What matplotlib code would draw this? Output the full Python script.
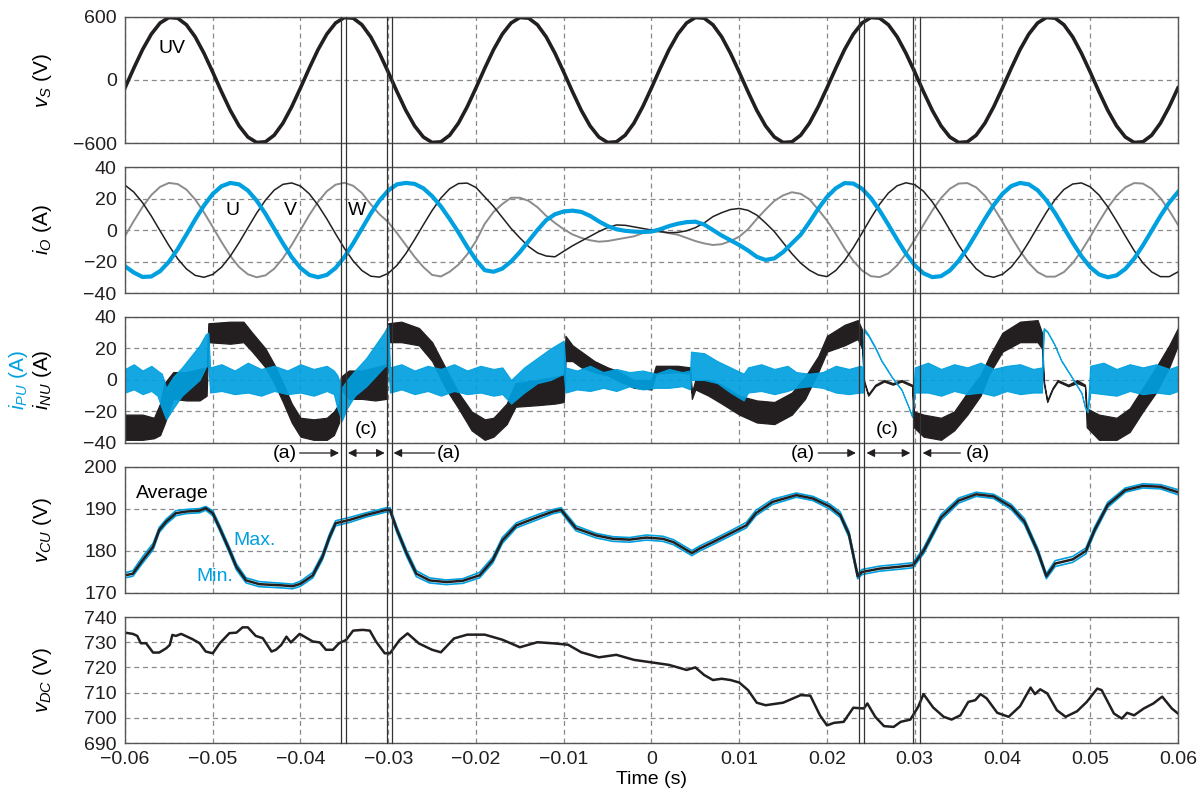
import numpy as np
import matplotlib
matplotlib.use('Agg')
import matplotlib.pyplot as plt
from matplotlib.lines import Line2D
from matplotlib.transforms import blended_transform_factory

plt.rcParams['font.family'] = ['Liberation Sans', 'DejaVu Sans']
plt.rcParams['mathtext.fontset'] = 'custom'
plt.rcParams['mathtext.rm'] = 'Liberation Sans'
plt.rcParams['mathtext.it'] = 'Liberation Sans:italic'

BLUE = '#00a0e0'
BLACK = '#231f20'
GRAY = '#8c8c8c'

# sample times for panels 1-2 (1 ms step)
t_grid = np.round(np.arange(121) * 0.001 - 0.06, 3)

# line-to-line voltage UV (V)
v_s = [-75, 112, 289, 437, 543, 595, 589, 526, 411, 255, 75, -112, -289, -437, -543, -595, -589, -526, -411, -255,
       -75, 112, 289, 437, 543, 595, 589, 526, 411, 255, 75, -112, -289, -437, -543, -595, -589, -526, -411, -255,
       -75, 112, 289, 437, 543, 595, 589, 526, 411, 255, 75, -112, -289, -437, -543, -595, -589, -526, -411, -255,
       -75, 112, 289, 437, 543, 595, 589, 526, 411, 255, 75, -112, -289, -437, -543, -595, -589, -526, -411, -255,
       -75, 112, 289, 437, 543, 595, 589, 526, 411, 255, 75, -112, -289, -437, -543, -595, -589, -526, -411, -255,
       -75, 112, 289, 437, 543, 595, 589, 526, 411, 255, 75, -112, -289, -437, -543, -595, -589, -526, -411, -255,
       -75]

# output currents (A)
i_u = [-23, -27.0, -29.8, -29.5, -26.1, -20.2, -12.2, -2.9, 6.7, 15.5,
       22.9, 27.8, 29.9, 29.0, 25.1, 18.7, 10.4, 0.9, -8.5, -17.2,
       -24.1, -28.5, -30, -28.5, -24.1, -17.2, -8.5, 0.9, 10.4, 18.7,
       25.1, 29.0, 29.9, 29.3, 26.5, 21.5, 15, 7, -1.5, -10.7,
       -19, -25.5, -26.5, -24.5, -20, -14, -7, 0, 6.3, 10,
       11.8, 12.3, 11.5, 9, 5.5, 2.5, 0.5, -0.5, -1, -1.2,
       -1, 0.5, 2.5, 4, 5, 5.3, 3.5, 0, -3.5, -6.5,
       -9.5, -13, -17, -19, -18, -14, -8.5, -3, 5, 13.5,
       21, 26.5, 29.8, 29.5, 26.2, 20.3, 12.4, 3.3, -6.1, -15,
       -22.4, -27.5, -29.9, -29.3, -25.7, -19.6, -11.6, -2.4, 7.1, 15.8,
       23.0, 27.9, 29.9, 29.0, 25.3, 18.9, 10.7, 1.4, -8.0, -16.6,
       -23.6, -28.2, -30, -28.8, -24.7, -18.2, -9.8, -0.5, 8.9, 17.4,
       24.1]
i_v = [28.5, 24.1, 17.4, 8.9, -0.5, -9.8, -18.2, -24.7, -28.8, -30,
       -28.2, -23.6, -16.6, -8.0, 1.4, 10.7, 18.9, 25.3, 29.0, 29.9,
       27.9, 23.0, 15.8, 7.1, -2.4, -11.6, -19.6, -25.7, -29.3, -29.9,
       -27.5, -22.4, -15, -6.1, 3.3, 12.4, 20.3, 26.2, 29.5, 29.8,
       27, 21, 15, 8, 1, -5, -10.5, -14.5, -16.5, -17,
       -13.5, -10, -7, -4, -1, 1.5, 3.2, 3, 2, 1,
       0, -1, -1.7, -1.5, -0.5, 1.5, 4.5, 8.5, 11, 13,
       13.7, 12.5, 9.5, 4.5, -1, -8, -15, -21, -25.5, -28.5,
       -29.6, -25.7, -19.4, -11.2, -1.9, 7.6, 16.4, 23.5, 28.1, 30,
       28.8, 24.6, 17.9, 9.5, 0, -9.5, -17.9, -24.6, -28.8, -30,
       -28.1, -23.5, -16.4, -7.6, 1.9, 11.2, 19.4, 25.7, 29.2, 29.9,
       27.4, 22.2, 14.7, 5.7, -3.8, -13.0, -20.9, -26.6, -29.6, -29.6,
       -26.6]
i_w = [-3.8, 5.7, 14.7, 22.2, 27.4, 29.9, 29.2, 25.7, 19.4, 11.2,
       1.9, -7.6, -16.4, -23.5, -28.1, -30, -28.8, -24.6, -17.9, -9.5,
       0, 9.5, 17.9, 24.6, 28.8, 30, 28.1, 23.5, 16.4, 10,
       5, -2, -9.5, -17, -23.5, -28.5, -29.5, -26.5, -22, -15.5,
       -7, 4, 11.5, 16.5, 20.5, 20.5, 18.5, 14.5, 9, 4.5,
       0.5, -2.8, -5, -6.5, -7.4, -7, -6, -5, -4, -2,
       -1, -1, -2, -3, -5, -7, -8.5, -9.5, -9, -7,
       -4.2, 0.5, 7, 13, 18.5, 22, 24, 23, 19.5, 13,
       6, -2.4, -11.6, -19.6, -25.7, -29.3, -29.9, -27.5, -22.4, -15,
       -6.1, 3.3, 12.4, 20.3, 26.2, 29.5, 29.8, 27.1, 21.7, 14.2,
       5.2, -4.3, -13.3, -21, -26.7, -29.6, -29.6, -26.7, -21, -13.3,
       -4.3, 5.2, 14.2, 21.7, 27.1, 29.8, 29.5, 26.2, 20.3, 12.4,
       3.3]

# arm currents: ripple envelope (upper / lower), A
t_pu = [-0.0600, -0.0590, -0.0580, -0.0570, -0.0563, -0.0558, -0.0553, -0.0545, -0.0535, -0.0525,
        -0.0515, -0.0508, -0.0505, -0.0503, -0.0490, -0.0475, -0.0460, -0.0445, -0.0430, -0.0415,
        -0.0400, -0.0385, -0.0370, -0.0362, -0.0358, -0.0353, -0.0347, -0.0338, -0.0325, -0.0315,
        -0.0305, -0.0300, -0.0298, -0.0285, -0.0270, -0.0255, -0.0240, -0.0225, -0.0210, -0.0195,
        -0.0180, -0.0170, -0.0160, -0.0145, -0.0130, -0.0115, -0.0100, -0.0098, -0.0085, -0.0070,
        -0.0055, -0.0040, -0.0025, -0.0010, 0.0005, 0.0020, 0.0035, 0.0044, 0.0045, 0.0060,
        0.0075, 0.0090, 0.0105, 0.0110, 0.0125, 0.0140, 0.0155, 0.0165, 0.0180, 0.0195,
        0.0210, 0.0225, 0.0238, 0.0241, 0.0242, 0.0247, 0.0255, 0.0262, 0.0274, 0.0285,
        0.0293, 0.0297, 0.0300, 0.0315, 0.0330, 0.0345, 0.0360, 0.0375, 0.0390, 0.0405,
        0.0420, 0.0435, 0.0445, 0.0447, 0.0451, 0.0459, 0.0467, 0.0479, 0.0490, 0.0494,
        0.0497, 0.0500, 0.0515, 0.0530, 0.0545, 0.0560, 0.0575, 0.0590, 0.0600]
i_pu_hi = [7, 10, 6, 9, 6, 4, -5, 2, 8, 15,
           22, 29, 30, 8, 10, 6, 11, 7, 9, 6,
           10, 7, 9, 6, 3, -5, 0, 6, 14, 22,
           30, 35, 8, 10, 6, 9, 7, 10, 6, 9,
           7, 8, 0, 8, 14, 20, 25, 8, 6, 9,
           5, 7, 5, 6, 4, 7, 5, 6, 18, 17,
           12, 8, 4, 8, 10, 7, 9, 5, 4, 5,
           9, 7, 9, 8, 33, 29, 21, 12.6, 2, -6,
           -17, -23, 8, 11, 7, 10, 8, 11, 7, 9,
           10, 7, 8, 33, 31, 23, 12.6, 2, -8, -17,
           -20, 9, 11, 7, 10, 8, 10, 7, 9]
i_pu_lo = [-8, -6, -9, -7, -10, -18, -25, -18, -10, -5,
           0, 8, 10, -8, -7, -9, -8, -10, -7, -9,
           -8, -10, -7, -9, -18, -26, -18, -10, -4, 2,
           8, 10, -8, -6, -9, -7, -10, -7, -9, -8,
           -10, -9, -15, -8, -2, 0, 4, -8, -6, -7,
           -5, -7, -4, -6, -5, -5, -4, -6, 0, 0,
           -2, -8, -13, -8, -7, -9, -7, -5, -4, -5,
           -8, -9, -8, -8, 31, 28, 20, 12, 1.5, -6.5,
           -17.5, -23.5, -8, -8, -10, -7, -9, -8, -10, -7,
           -9, -8, -8, 32, 30.5, 22.5, 12, 1.5, -8.5, -17.5,
           -20.5, -8, -9, -10, -7, -9, -8, -9, -7]

t_nu = [-0.0600, -0.0580, -0.0567, -0.0560, -0.0555, -0.0545, -0.0530, -0.0515, -0.0507, -0.0505,
        -0.0480, -0.0465, -0.0455, -0.0440, -0.0430, -0.0420, -0.0410, -0.0400, -0.0385, -0.0370,
        -0.0362, -0.0356, -0.0354, -0.0345, -0.0330, -0.0315, -0.0302, -0.0300, -0.0285, -0.0265,
        -0.0250, -0.0235, -0.0220, -0.0205, -0.0190, -0.0180, -0.0165, -0.0155, -0.0130, -0.0110,
        -0.0100, -0.0098, -0.0090, -0.0080, -0.0065, -0.0050, -0.0040, -0.0020, 0.0000, 0.0005,
        0.0030, 0.0044, 0.0046, 0.0050, 0.0065, 0.0080, 0.0100, 0.0120, 0.0140, 0.0160,
        0.0175, 0.0190, 0.0200, 0.0220, 0.0235, 0.0240, 0.0242, 0.0247, 0.0255, 0.0265,
        0.0275, 0.0285, 0.0297, 0.0299, 0.0310, 0.0330, 0.0345, 0.0360, 0.0375, 0.0385,
        0.0400, 0.0420, 0.0440, 0.0445, 0.0447, 0.0451, 0.0457, 0.0463, 0.0475, 0.0485,
        0.0494, 0.0496, 0.0510, 0.0530, 0.0545, 0.0560, 0.0575, 0.0590, 0.0600]
i_nu_hi = [-22, -22, -24, -15, -2, 5, 5, 7, 8, 36,
           37, 37, 30, 20, 10, -2, -15, -24, -25, -24,
           -20, -15, 2, 6, 6, 8, 10, 36, 37, 33,
           24, 8, -8, -20, -25, -24, -15, -2, 0, 2,
           3, 28, 22, 18, 12, 8, 6, 0, 0, 9,
           9, 8, -8, 0, 0, -3, -10, -13, -14, -8,
           2, 15, 28, 35, 38, 32, 0, -9, -3, 0,
           -2, 0, -3, -20, -22, -24, -20, -8, 3, 15,
           30, 37, 38, 30, 0, -13, -5, 0, -3, 0,
           -3, -18, -22, -24, -18, -5, 8, 22, 33]
i_nu_lo = [-38, -38, -37, -35, -28, -12, -13, -13, -10, 24,
           23, 24, 18, 8, -2, -14, -27, -36, -38, -38,
           -35, -27, -6, -12, -12, -13, -12, 24, 24, 22,
           12, -5, -18, -32, -38, -36, -28, -17, -16, -15,
           -14, 12, 12, 8, 5, 3, 0, -5, -6, 4,
           5, 4, -12, -6, -10, -15, -22, -27, -28, -22,
           -12, 5, 18, 22, 26, 20, -1, -10, -4, -1,
           -3, -1, -4, -30, -36, -38, -32, -22, -10, 4,
           18, 24, 24, 20, -2, -14, -6, -1, -4, -2,
           -4, -30, -38, -38, -33, -20, -8, 8, 22]

# capacitor voltage (V)
t_cu = [-0.0600, -0.0591, -0.0580, -0.0568, -0.0561, -0.0553, -0.0542, -0.0530, -0.0515, -0.0508,
        -0.0500, -0.0492, -0.0481, -0.0473, -0.0462, -0.0447, -0.0420, -0.0409, -0.0400, -0.0386,
        -0.0375, -0.0367, -0.0360, -0.0344, -0.0325, -0.0302, -0.0298, -0.0290, -0.0279, -0.0268,
        -0.0253, -0.0234, -0.0215, -0.0196, -0.0181, -0.0170, -0.0154, -0.0143, -0.0128, -0.0112,
        -0.0103, -0.0097, -0.0086, -0.0063, -0.0044, -0.0025, -0.0006, 0.0013, 0.0025, 0.0046,
        0.0055, 0.0070, 0.0089, 0.0108, 0.0119, 0.0138, 0.0165, 0.0184, 0.0203, 0.0215,
        0.0225, 0.0235, 0.0240, 0.0260, 0.0280, 0.0298, 0.0310, 0.0330, 0.0350, 0.0370,
        0.0390, 0.0410, 0.0425, 0.0440, 0.0450, 0.0460, 0.0480, 0.0495, 0.0505, 0.0520,
        0.0540, 0.0560, 0.0580, 0.0600]
v_cu_avg = [174.2, 174.6, 177.8, 181.0, 185.0, 187.0, 189.0, 189.4, 189.6, 190.2,
            189.0, 185.4, 180.2, 176.2, 173.0, 172.1, 171.8, 171.6, 172.2, 174.2,
            178.6, 183.3, 186.6, 187.4, 188.6, 189.8, 189.8, 185.0, 179.4, 174.6,
            173.0, 172.6, 172.9, 174.2, 177.8, 182.5, 186.1, 187.0, 188.2, 189.4,
            189.8, 188.2, 185.4, 183.7, 182.9, 182.7, 183.2, 182.9, 182.1, 179.5,
            180.6, 182.1, 184.1, 186.1, 189.0, 191.7, 193.3, 192.5, 190.6, 188.6,
            184.0, 174.0, 175.0, 175.8, 176.2, 176.6, 180.0, 188.0, 192.0, 193.5,
            193.0, 190.5, 187.0, 180.0, 174.0, 177.0, 178.0, 180.0, 185.0, 191.0,
            194.5, 195.5, 195.3, 194.0]
v_cu_max = [174.8, 175.3, 178.6, 181.8, 185.6, 187.6, 189.6, 189.9, 190.1, 190.6,
            189.6, 186.1, 180.9, 176.9, 173.6, 172.7, 172.3, 172.1, 172.8, 174.9,
            179.3, 184.0, 187.2, 188.0, 189.1, 190.3, 190.3, 185.7, 180.1, 175.3,
            173.6, 173.1, 173.4, 174.9, 178.5, 183.2, 186.7, 187.6, 188.8, 189.9,
            190.3, 188.8, 186.0, 184.2, 183.4, 183.2, 183.8, 183.5, 182.7, 180.1,
            181.2, 182.7, 184.7, 186.8, 189.7, 192.3, 193.8, 193.0, 191.2, 189.3,
            184.7, 174.6, 175.6, 176.4, 176.8, 177.2, 180.7, 188.7, 192.6, 194.0,
            193.5, 191.1, 187.7, 180.7, 174.6, 177.7, 178.7, 180.7, 185.7, 191.6,
            195.0, 196.0, 195.8, 194.6]
v_cu_min = [173.6, 174.0, 177.1, 180.3, 184.4, 186.4, 188.4, 188.9, 189.1, 189.7,
            188.4, 184.8, 179.5, 175.5, 172.4, 171.5, 171.2, 171.0, 171.6, 173.6,
            177.9, 182.6, 186.0, 186.8, 188.1, 189.3, 189.3, 184.3, 178.7, 173.9,
            172.4, 172.0, 172.3, 173.6, 177.1, 181.8, 185.5, 186.4, 187.6, 188.9,
            189.3, 187.6, 184.8, 183.1, 182.3, 182.1, 182.6, 182.3, 181.5, 178.9,
            180.0, 181.5, 183.5, 185.5, 188.4, 191.1, 192.8, 192.0, 190.0, 188.0,
            183.3, 173.4, 174.4, 175.2, 175.6, 176.0, 179.3, 187.3, 191.4, 193.0,
            192.5, 189.9, 186.3, 179.3, 173.4, 176.3, 177.3, 179.3, 184.3, 190.4,
            194.0, 195.0, 194.8, 193.4]

# DC-link voltage (V)
t_dc = [-0.0600, -0.0591, -0.0586, -0.0582, -0.0576, -0.0568, -0.0561, -0.0553, -0.0549, -0.0546,
        -0.0542, -0.0536, -0.0523, -0.0515, -0.0508, -0.0500, -0.0492, -0.0481, -0.0473, -0.0466,
        -0.0460, -0.0451, -0.0443, -0.0433, -0.0428, -0.0422, -0.0416, -0.0411, -0.0401, -0.0386,
        -0.0378, -0.0371, -0.0363, -0.0356, -0.0348, -0.0340, -0.0329, -0.0321, -0.0314, -0.0304,
        -0.0298, -0.0287, -0.0278, -0.0265, -0.0250, -0.0240, -0.0225, -0.0210, -0.0190, -0.0170,
        -0.0150, -0.0130, -0.0110, -0.0095, -0.0080, -0.0060, -0.0040, -0.0020, 0.0000, 0.0020,
        0.0040, 0.0050, 0.0060, 0.0070, 0.0080, 0.0090, 0.0100, 0.0110, 0.0120, 0.0130,
        0.0150, 0.0170, 0.0181, 0.0192, 0.0200, 0.0208, 0.0219, 0.0230, 0.0242, 0.0246,
        0.0255, 0.0265, 0.0276, 0.0284, 0.0295, 0.0304, 0.0310, 0.0321, 0.0333, 0.0342,
        0.0352, 0.0361, 0.0369, 0.0375, 0.0382, 0.0394, 0.0407, 0.0420, 0.0432, 0.0437,
        0.0443, 0.0451, 0.0462, 0.0472, 0.0485, 0.0496, 0.0508, 0.0513, 0.0527, 0.0536,
        0.0542, 0.0550, 0.0561, 0.0572, 0.0582, 0.0593, 0.0600]
v_dc = [733.8, 733.3, 732.5, 729.6, 729.6, 725.9, 725.9, 727.6, 728.9, 732.9,
        732.5, 733.3, 731.2, 729.6, 726.3, 725.6, 729.6, 733.6, 733.8, 735.9,
        735.9, 732.5, 731.6, 726.3, 727.0, 728.9, 732.2, 729.9, 733.3, 730.3,
        729.9, 727.0, 727.0, 729.6, 730.9, 734.6, 734.9, 734.6, 730.3, 725.6,
        725.6, 730.9, 733.5, 729.5, 727.0, 726.0, 731.5, 733.0, 733.0, 731.0,
        728.0, 730.0, 729.5, 729.0, 726.0, 724.0, 725.0, 723.0, 722.0, 721.0,
        719.0, 720.0, 717.0, 715.0, 715.5, 715.0, 714.0, 711.0, 706.0, 705.0,
        706.0, 709.0, 708.8, 701.0, 697.0, 698.0, 698.4, 704.0, 703.7, 705.7,
        700.4, 696.7, 696.4, 698.4, 699.3, 704.4, 709.4, 704.1, 700.4, 699.3,
        701.0, 706.3, 707.0, 709.4, 707.7, 702.0, 700.4, 704.6, 712.0, 709.4,
        711.3, 709.7, 703.0, 700.4, 702.6, 706.3, 711.6, 711.0, 701.7, 699.7,
        702.0, 701.0, 703.7, 705.7, 708.4, 703.7, 701.7]

# figure layout
fig = plt.figure(figsize=(12.03, 7.98), dpi=100)
left, width, height = 0.1039, 0.8753, 0.1579
bottoms = [0.8208, 0.6328, 0.4449, 0.2569, 0.0689]
axes = [fig.add_axes([left, b, width, height]) for b in bottoms]
ax1, ax2, ax3, ax4, ax5 = axes

ylims = [(-600, 600), (-40, 40), (-40, 40), (170, 200), (690, 740)]
yticks = [[-600, 0, 600], [-40, -20, 0, 20, 40], [-40, -20, 0, 20, 40],
          [170, 180, 190, 200], [690, 700, 710, 720, 730, 740]]
xticks = np.round(np.arange(-0.06, 0.0601, 0.01), 2)
for ax, yl, yt in zip(axes, ylims, yticks):
    ax.set_xlim(-0.06, 0.06)
    ax.set_ylim(*yl)
    ax.set_yticks(yt)
    ax.set_xticks(xticks)
    ax.grid(True, color='#8a8a8a', linestyle=(0, (4, 3)), linewidth=0.9)
    ax.set_axisbelow(True)
    ax.tick_params(length=0, labelsize=14, pad=6, colors='#231f20')
    for s in ax.spines.values():
        s.set_color('#555555')
        s.set_linewidth(1.0)
    if ax is not ax5:
        ax.tick_params(labelbottom=False)

xlabels = ['0' if abs(v) < 1e-9 else ('\u2212%.2f' % -v if v < 0 else '%.2f' % v) for v in xticks]
ax5.set_xticklabels(xlabels)
ax5.set_xlabel('Time (s)', fontsize=14, labelpad=2)

# panel 1
ax1.plot(t_grid, v_s, color=BLACK, lw=2.6)
ax1.text(-0.0546, 300, 'UV', fontsize=14, ha='center', va='center')

# panel 2
ax2.plot(t_grid, i_w, color=GRAY, lw=1.4)
ax2.plot(t_grid, i_v, color=BLACK, lw=1.1)
ax2.plot(t_grid, i_u, color=BLUE, lw=3.0)
ax2.text(-0.0477, 12.5, 'U', fontsize=14, ha='center', va='center')
ax2.text(-0.0411, 12.5, 'V', fontsize=14, ha='center', va='center')
ax2.text(-0.0335, 12.5, 'W', fontsize=14, ha='center', va='center')

# panel 3
ax3.fill_between(t_nu, i_nu_lo, i_nu_hi, facecolor=BLACK, edgecolor=BLACK, lw=0.9)
ax3.fill_between(t_pu, i_pu_lo, i_pu_hi, facecolor=BLUE, edgecolor=BLUE, lw=0.8, alpha=0.92)
ax3.text(-0.0325, -31.5, '(c)', fontsize=14, ha='center', va='center')
ax3.text(0.0269, -31.5, '(c)', fontsize=14, ha='center', va='center')

# panel 4
ax4.plot(t_cu, v_cu_max, color=BLUE, lw=1.2)
ax4.plot(t_cu, v_cu_min, color=BLUE, lw=1.2)
ax4.plot(t_cu, v_cu_avg, color=BLACK, lw=1.8)
ax4.text(-0.0546, 193.8, 'Average', fontsize=14, ha='center', va='center')
ax4.text(-0.0452, 182.6, 'Max.', fontsize=14, ha='center', va='center', color=BLUE)
ax4.text(-0.0498, 174.0, 'Min.', fontsize=14, ha='center', va='center', color=BLUE)

# panel 5
ax5.plot(t_dc, v_dc, color=BLACK, lw=1.8)

# y labels
ylab_x = 0.035
fig.text(ylab_x, bottoms[0] + height / 2, r'$v_S$ (V)', rotation=90, ha='center', va='center', fontsize=15)
fig.text(ylab_x, bottoms[1] + height / 2, r'$i_O$ (A)', rotation=90, ha='center', va='center', fontsize=15)
fig.text(0.015, bottoms[2] + height / 2, r'$i_{PU}$ (A)', rotation=90, ha='center', va='center',
         fontsize=15, color=BLUE)
fig.text(ylab_x, bottoms[2] + height / 2, r'$i_{NU}$ (A)', rotation=90, ha='center', va='center', fontsize=15)
fig.text(ylab_x, bottoms[3] + height / 2, r'$v_{CU}$ (V)', rotation=90, ha='center', va='center', fontsize=15)
fig.text(ylab_x, bottoms[4] + height / 2, r'$v_{DC}$ (V)', rotation=90, ha='center', va='center', fontsize=15)

# mode boundaries crossing all panels
marks = [-0.0354, -0.0348, -0.0301, -0.0296, 0.0236, 0.0242, 0.0298, 0.0306]
trans = blended_transform_factory(ax5.transData, fig.transFigure)
for xm in marks:
    fig.add_artist(Line2D([xm, xm], [bottoms[4], bottoms[0] + height], transform=trans,
                          color='#333333', lw=0.9))

# interval arrows between panels 3 and 4
ya = 1 - 453 / 798.0
arr = dict(arrowstyle='-|>', color=BLACK, lw=0.9, mutation_scale=12, shrinkA=0, shrinkB=0)
darr = dict(arrowstyle='<|-|>', color=BLACK, lw=0.9, mutation_scale=12, shrinkA=0, shrinkB=0)
cc = ('data', 'figure fraction')
for x0, x1, sty in [(-0.0401, -0.0356, arr), (-0.0346, -0.0304, darr), (-0.0247, -0.0294, arr),
                    (0.0190, 0.0233, arr), (0.0245, 0.0295, darr), (0.0352, 0.0309, arr)]:
    ax3.annotate('', xy=(x1, ya), xytext=(x0, ya), xycoords=cc, textcoords=cc, arrowprops=sty)
for xt in [-0.0418, -0.0231, 0.0172, 0.0372]:
    ax3.annotate('(a)', xy=(xt, ya), xycoords=cc, ha='center', va='center', fontsize=14)

fig.savefig('out.png', dpi=100)
